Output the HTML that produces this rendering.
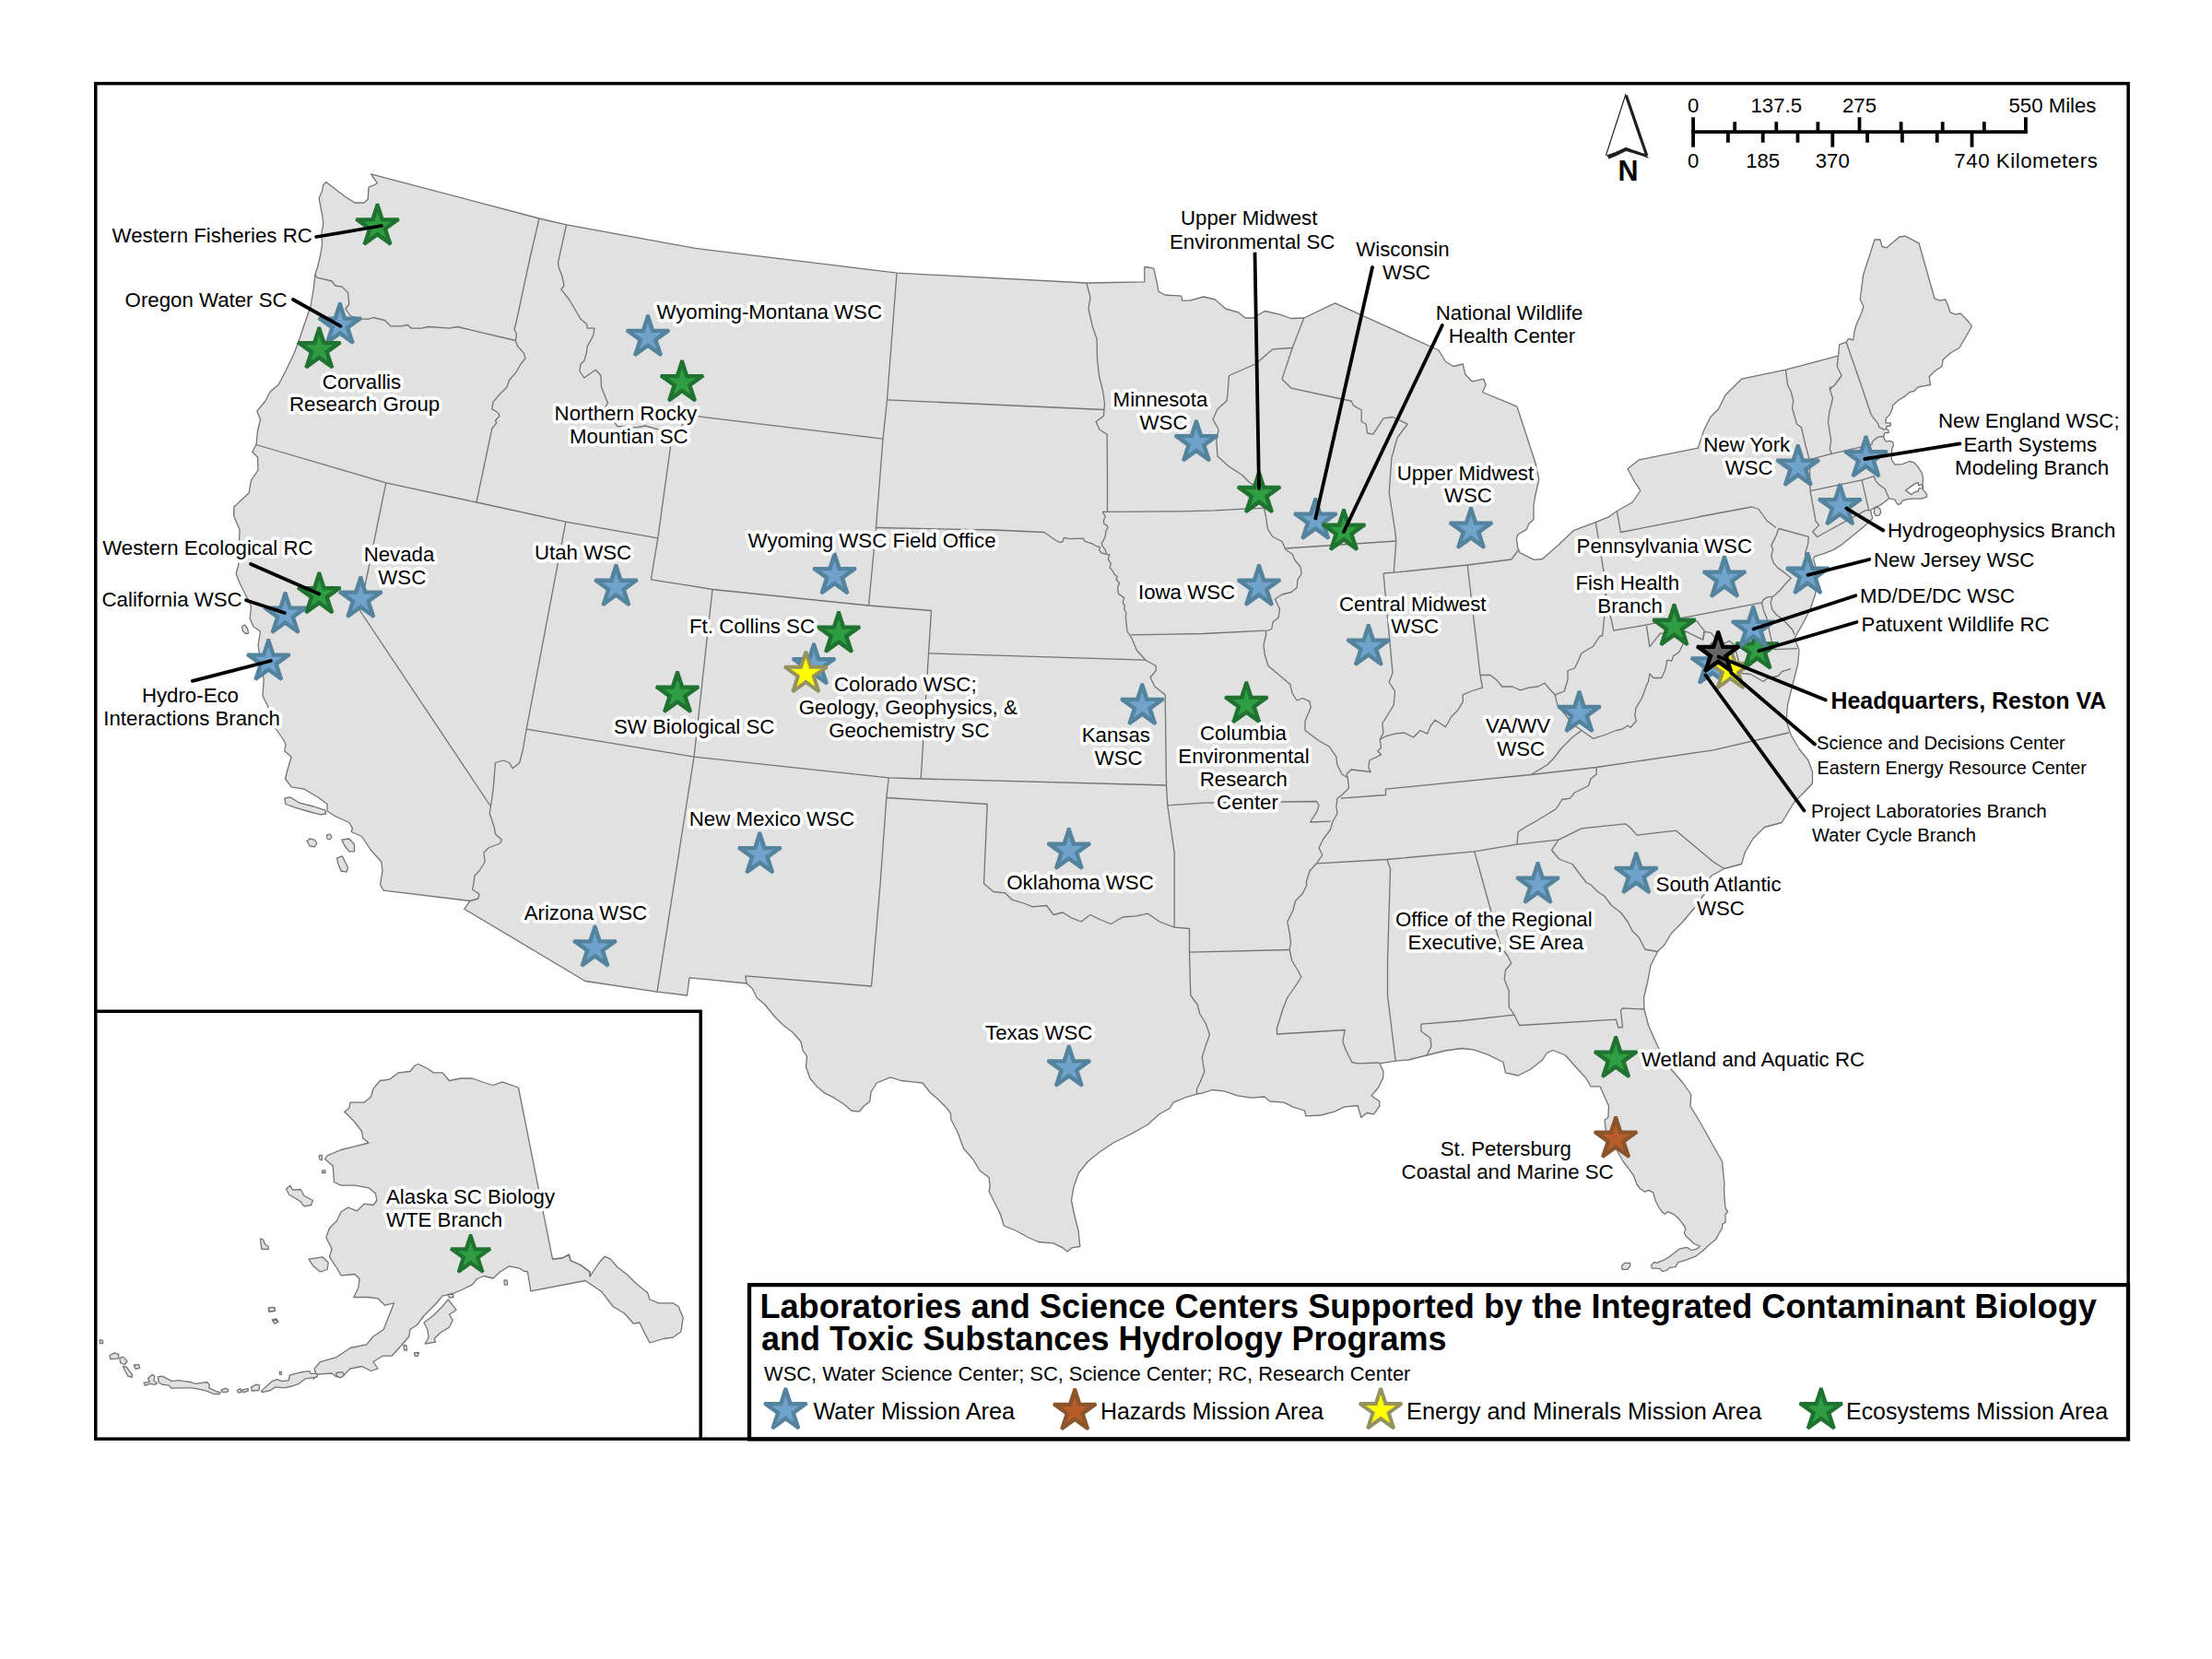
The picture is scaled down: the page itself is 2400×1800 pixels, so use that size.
<!DOCTYPE html><html><head><meta charset="utf-8"><title>Map</title><style>html,body{margin:0;padding:0;background:#fff}svg{display:block}text{font-family:"Liberation Sans",sans-serif;fill:#000}.h{paint-order:stroke;stroke:#fff;stroke-width:7.4px;stroke-linejoin:round}</style></head><body>
<svg width="2400" height="1800" viewBox="0 0 2400 1800">
<rect width="2400" height="1800" fill="#fff"/>
<g fill="#e1e1e1" stroke="#747474" stroke-width="1.3" stroke-linejoin="round">
<path fill-rule="evenodd" d="M402.5 188.8 L409.5 198.8 L405.0 201.2 L400.0 203.0 L399.2 216.2 L395.0 220.0 L385.0 220.0 L375.0 213.8 L353.8 197.5 L350.5 201.2 L349.5 207.5 L346.2 215.0 L347.5 222.5 L349.5 232.5 L350.8 242.5 L349.0 252.5 L349.5 265.0 L347.5 277.5 L344.5 290.0 L342.0 297.5 L340.0 315.0 L337.0 332.5 L330.0 352.5 L325.0 367.5 L319.5 382.5 L310.0 402.5 L302.0 417.5 L293.0 425.0 L288.0 435.0 L278.8 446.2 L282.5 455.0 L279.5 467.5 L278.0 482.5 L273.8 490.0 L279.5 496.2 L280.0 510.0 L272.5 521.2 L270.0 535.0 L253.8 550.0 L253.8 560.0 L260.0 574.8 L258.8 612.5 L256.2 622.5 L260.0 632.5 L266.2 645.0 L272.5 657.5 L271.2 671.2 L275.0 680.0 L282.5 685.0 L280.0 700.0 L282.5 715.0 L286.2 737.5 L285.0 755.0 L290.0 765.0 L298.8 790.0 L307.5 802.5 L310.0 807.5 L308.8 815.0 L316.2 821.2 L312.0 835.0 L309.5 845.0 L316.2 853.8 L330.0 856.2 L345.0 865.0 L355.0 872.5 L355.0 880.0 L362.5 885.0 L378.8 892.5 L382.5 898.8 L381.2 902.5 L392.5 907.5 L402.5 922.5 L413.8 935.0 L415.0 945.0 L412.5 960.0 L416.2 966.2 L510.0 977.5 L503.8 986.2 L635.0 1064.5 L713.0 1076.2 L745.5 1080.0 L748.0 1060.8 L810.0 1067.0 L816.2 1072.5 L821.2 1082.5 L830.0 1090.0 L840.0 1102.5 L850.0 1112.5 L860.0 1120.0 L868.8 1130.0 L871.2 1140.0 L875.5 1146.2 L874.5 1157.5 L878.8 1170.0 L886.2 1178.8 L895.0 1186.2 L905.0 1191.2 L915.0 1197.5 L923.8 1205.0 L932.0 1206.2 L937.5 1200.0 L943.8 1195.0 L945.0 1185.0 L951.2 1175.0 L966.2 1168.8 L977.5 1172.5 L990.0 1173.8 L1001.2 1175.0 L1008.8 1185.0 L1017.5 1192.5 L1026.2 1201.2 L1031.2 1207.5 L1032.0 1215.0 L1039.2 1228.8 L1045.5 1246.2 L1055.5 1257.5 L1063.0 1270.0 L1073.0 1277.5 L1074.2 1287.5 L1073.0 1292.5 L1079.2 1305.0 L1085.5 1317.5 L1089.2 1330.0 L1101.8 1335.0 L1115.5 1342.5 L1126.8 1347.5 L1143.0 1348.8 L1153.0 1353.8 L1158.0 1358.0 L1163.0 1353.8 L1171.8 1352.5 L1170.0 1335.0 L1165.5 1317.5 L1162.5 1302.5 L1165.0 1287.5 L1170.5 1272.5 L1180.5 1260.0 L1193.0 1250.0 L1208.0 1240.0 L1228.0 1230.0 L1245.5 1220.0 L1258.0 1208.8 L1269.2 1202.5 L1273.0 1196.2 L1288.0 1190.0 L1298.5 1187.0 L1304.2 1186.2 L1315.5 1182.5 L1328.0 1183.8 L1343.0 1188.8 L1358.0 1191.2 L1371.8 1190.0 L1378.0 1195.0 L1393.0 1196.2 L1403.0 1201.2 L1415.5 1205.0 L1416.8 1210.8 L1433.0 1210.0 L1448.0 1206.2 L1458.0 1201.2 L1473.0 1199.5 L1476.8 1212.5 L1483.0 1207.5 L1490.5 1208.8 L1496.8 1200.0 L1496.8 1195.0 L1488.0 1188.8 L1495.5 1180.0 L1500.5 1170.0 L1501.0 1162.5 L1496.8 1153.8 L1514.2 1151.2 L1528.0 1150.0 L1548.0 1145.0 L1568.0 1140.0 L1586.0 1137.5 L1598.5 1138.8 L1613.5 1143.8 L1631.0 1152.5 L1633.5 1163.8 L1647.2 1167.0 L1661.0 1160.0 L1673.5 1150.0 L1678.5 1142.5 L1684.8 1139.5 L1698.5 1145.0 L1708.5 1156.2 L1721.0 1170.0 L1726.0 1178.8 L1736.0 1178.8 L1741.0 1190.0 L1745.5 1200.0 L1744.8 1212.5 L1741.0 1215.0 L1742.2 1226.2 L1751.0 1242.5 L1761.0 1260.0 L1772.2 1275.0 L1776.0 1285.0 L1779.7 1290.0 L1784.8 1293.2 L1788.6 1291.3 L1793.7 1293.8 L1796.2 1302.7 L1800.0 1310.3 L1803.8 1315.3 L1806.3 1317.2 L1809.5 1314.7 L1816.5 1317.8 L1821.5 1322.3 L1827.8 1330.5 L1828.9 1334.3 L1827.2 1337.5 L1829.1 1341.3 L1834.2 1345.7 L1838.0 1349.5 L1844.3 1352.0 L1841.8 1354.6 L1835.4 1356.5 L1830.4 1353.3 L1822.8 1354.8 L1817.7 1358.4 L1811.4 1363.4 L1805.1 1367.2 L1800.0 1369.1 L1798.1 1370.4 L1794.9 1369.5 L1791.4 1372.9 L1792.4 1376.1 L1797.5 1376.1 L1801.3 1376.7 L1803.8 1379.6 L1808.9 1378.0 L1811.4 1375.4 L1817.7 1374.6 L1820.9 1369.7 L1829.1 1367.2 L1839.2 1363.4 L1846.8 1357.7 L1855.7 1349.5 L1862.0 1344.4 L1865.8 1336.8 L1868.4 1333.0 L1869.0 1328.0 L1872.2 1326.1 L1871.9 1317.8 L1874.7 1314.7 L1872.2 1311.5 L1871.1 1301.4 L1870.6 1290.0 L1871.0 1285.0 L1868.5 1260.0 L1858.5 1242.5 L1846.0 1220.0 L1834.0 1200.0 L1834.8 1187.5 L1826.0 1175.0 L1811.0 1157.5 L1798.5 1135.0 L1788.5 1112.5 L1784.0 1095.0 L1783.5 1082.5 L1787.2 1067.5 L1791.0 1047.5 L1798.5 1032.5 L1806.0 1025.0 L1813.5 1012.5 L1826.0 1000.0 L1838.5 985.0 L1851.0 967.5 L1847.0 965.0 L1857.0 950.0 L1870.8 942.5 L1889.5 937.5 L1893.2 925.0 L1902.0 910.0 L1914.5 897.5 L1933.2 892.5 L1940.8 880.0 L1947.0 870.0 L1957.0 860.0 L1966.5 850.0 L1966.5 837.5 L1962.0 825.0 L1952.0 812.5 L1943.2 797.5 L1938.2 782.5 L1939.5 765.0 L1943.2 750.0 L1947.0 735.0 L1950.8 720.0 L1952.0 705.0 L1947.0 692.5 L1957.0 675.0 L1964.5 660.0 L1969.5 645.0 L1972.0 625.0 L1969.7 614.3 L1967.7 606.4 L1968.7 603.9 L1979.6 600.4 L1989.6 596.4 L1997.5 591.4 L2012.4 579.5 L2024.4 569.6 L2029.6 564.7 L2031.9 562.0 L2030.5 558.3 L2029.6 553.4 L2035.0 550.2 L2039.6 548.4 L2044.1 545.2 L2049.5 540.7 L2055.8 542.1 L2057.2 544.8 L2059.5 547.5 L2062.2 546.6 L2064.0 543.4 L2069.4 541.6 L2076.6 541.2 L2084.8 541.2 L2090.2 539.3 L2090.7 536.6 L2086.6 531.2 L2086.1 524.9 L2086.6 518.6 L2085.2 513.1 L2081.2 506.8 L2076.6 501.8 L2071.7 500.5 L2064.0 503.6 L2055.8 504.1 L2054.9 502.3 L2052.2 498.7 L2052.7 486.9 L2054.5 483.3 L2053.6 479.7 L2050.4 478.3 L2045.9 478.8 L2044.5 476.1 L2043.6 473.3 L2045.0 469.7 L2049.1 469.7 L2049.1 467.0 L2046.8 465.2 L2046.8 462.5 L2051.3 462.0 L2051.3 458.9 L2045.9 458.9 L2046.3 453.9 L2050.4 449.8 L2053.1 443.5 L2053.6 439.9 L2059.5 434.5 L2066.7 429.9 L2072.1 425.4 L2076.6 424.5 L2081.2 420.0 L2087.0 418.8 L2094.5 417.5 L2093.2 408.8 L2099.5 402.5 L2107.0 397.5 L2108.2 390.0 L2117.0 382.5 L2125.8 377.5 L2133.2 365.0 L2139.5 353.8 L2134.5 347.5 L2127.0 340.0 L2122.0 341.2 L2115.8 338.8 L2114.0 332.5 L2110.8 325.0 L2104.5 326.2 L2099.0 323.8 L2082.0 263.8 L2067.0 256.2 L2060.8 257.0 L2047.0 268.8 L2042.0 267.5 L2040.0 260.0 L2034.0 260.0 L2021.5 298.8 L2019.5 315.0 L2018.2 325.0 L2022.0 332.5 L2019.5 340.0 L2014.0 352.5 L2012.0 360.0 L2010.8 368.8 L2005.8 367.5 L2003.2 371.2 L1995.8 373.8 L1994.5 386.2 L1937.5 401.2 L1889.5 411.2 L1872.0 428.8 L1864.5 443.8 L1855.8 452.5 L1848.5 467.5 L1842.2 486.2 L1778.5 498.8 L1766.0 508.8 L1773.5 522.5 L1779.8 532.5 L1771.0 545.0 L1754.4 554.5 L1744.9 561.2 L1731.3 566.7 L1707.8 575.3 L1690.6 591.5 L1673.5 606.5 L1664.4 607.4 L1649.0 599.7 L1646.8 594.2 L1645.4 584.3 L1647.2 579.8 L1656.3 574.4 L1659.0 568.0 L1664.0 563.5 L1664.0 549.0 L1665.3 540.0 L1669.8 520.0 L1666.0 502.5 L1646.0 441.2 L1608.5 425.5 L1612.2 417.5 L1609.8 411.2 L1597.2 413.8 L1589.8 406.2 L1587.2 395.0 L1577.2 397.5 L1568.5 392.5 L1561.0 380.0 L1448.5 328.8 L1414.8 345.0 L1401.0 345.5 L1388.5 341.2 L1372.2 337.5 L1359.8 345.0 L1351.0 345.0 L1343.5 338.8 L1329.8 335.0 L1318.5 325.0 L1306.0 322.0 L1290.5 326.2 L1282.5 326.2 L1281.8 321.2 L1264.2 320.0 L1256.8 316.2 L1256.0 310.0 L1251.8 291.2 L1241.8 289.5 L1241.8 305.8 L1178.8 307.0 L973.0 296.2 L753.0 269.2 L614.5 243.8 L585.0 237.0ZM2067.6 532.1 L2071.2 529.4 L2077.5 524.9 L2081.2 523.5 L2081.6 526.7 L2085.7 525.3 L2086.1 529.9 L2082.1 529.9 L2081.2 533.0 L2077.5 533.9 L2073.9 536.6Z"/>
<path d="M262.5 679.5 L265.5 678.0 L268.8 682.5 L269.5 687.0 L266.2 687.5 L263.0 683.8Z"/>
<path d="M308.8 866.2 L315.0 865.0 L325.0 871.2 L340.0 875.0 L352.5 878.8 L353.8 883.0 L347.5 883.8 L335.0 880.5 L320.0 876.2 L310.0 872.5Z"/>
<path d="M333.0 912.5 L336.2 910.0 L341.2 911.2 L343.8 915.0 L341.2 918.8 L336.2 918.0Z"/>
<path d="M354.5 906.2 L358.0 905.0 L360.0 908.0 L358.0 911.0 L355.0 910.0Z"/>
<path d="M370.8 911.2 L378.8 910.0 L384.5 916.2 L384.5 923.8 L378.8 923.8 L373.8 917.5Z"/>
<path d="M365.5 931.2 L371.2 928.8 L377.5 941.2 L376.2 946.2 L370.0 945.0 L367.0 937.5Z"/>
<path d="M2033.8 551.6 L2036.8 550.1 L2039.8 552.1 L2040.8 556.1 L2038.8 559.1 L2035.3 559.6 L2033.3 556.6Z"/>
<path d="M1759.5 1373.5 L1762.7 1370.4 L1768.7 1370.4 L1768.7 1373.5 L1765.8 1377.3 L1760.1 1377.3Z"/>
<path d="M453.8 1154.5 L465.0 1160.0 L470.0 1163.8 L480.0 1163.8 L487.5 1172.5 L500.0 1170.0 L512.5 1170.0 L525.0 1174.5 L535.0 1177.5 L545.0 1173.8 L562.5 1180.0 L599.5 1366.2 L610.0 1365.0 L617.5 1361.2 L618.8 1367.5 L630.0 1372.5 L640.0 1380.0 L640.0 1385.0 L650.0 1370.0 L656.2 1363.2 L662.5 1366.2 L670.0 1375.0 L680.0 1382.5 L690.0 1392.5 L702.5 1402.5 L705.0 1410.0 L715.0 1413.8 L730.0 1413.8 L736.2 1417.5 L741.2 1430.0 L738.8 1445.0 L730.0 1451.2 L720.0 1452.5 L705.0 1457.0 L700.0 1447.5 L693.8 1435.0 L687.5 1436.2 L677.5 1425.0 L665.0 1417.5 L652.5 1401.2 L635.0 1389.5 L575.8 1400.8 L572.5 1380.0 L567.5 1378.8 L563.8 1376.2 L552.5 1373.8 L542.5 1380.0 L535.0 1387.0 L525.0 1384.5 L517.5 1387.5 L512.5 1393.8 L500.0 1400.0 L490.0 1403.8 L480.0 1406.2 L472.5 1415.0 L460.0 1427.5 L452.5 1437.5 L445.0 1442.5 L443.8 1450.0 L437.5 1457.5 L425.0 1471.2 L415.0 1471.2 L405.0 1477.5 L410.0 1485.0 L402.5 1487.5 L392.5 1482.5 L380.0 1485.0 L372.5 1492.5 L365.0 1493.8 L360.0 1490.0 L345.0 1491.2 L340.0 1496.2 L343.0 1492.5 L341.2 1485.0 L347.5 1477.5 L365.0 1472.5 L380.0 1462.5 L397.5 1458.8 L405.0 1450.0 L416.2 1442.5 L427.5 1413.8 L417.5 1416.2 L410.0 1408.8 L400.0 1407.5 L383.8 1407.5 L388.8 1397.5 L390.0 1387.5 L385.0 1382.5 L370.0 1383.8 L365.0 1375.0 L357.5 1363.8 L360.0 1355.0 L353.8 1342.5 L357.5 1332.5 L365.0 1325.0 L370.0 1315.0 L377.5 1310.0 L387.5 1313.8 L395.0 1306.2 L405.0 1307.5 L408.8 1302.5 L407.5 1295.0 L400.0 1288.8 L385.0 1286.2 L370.0 1286.2 L362.5 1282.5 L361.2 1265.0 L352.5 1257.5 L355.0 1253.8 L370.0 1247.5 L385.0 1243.8 L400.0 1240.0 L393.8 1235.0 L392.5 1227.5 L385.0 1217.5 L373.8 1206.2 L378.8 1202.5 L380.0 1196.2 L395.0 1196.2 L402.5 1190.0 L405.0 1181.2 L412.5 1172.5 L422.5 1171.2 L432.5 1163.8 L445.0 1162.5 L450.0 1156.2Z"/>
<path d="M310.5 1290.0 L315.0 1286.2 L317.5 1291.2 L326.2 1290.5 L330.0 1297.5 L339.5 1302.5 L337.5 1307.5 L330.0 1308.8 L326.2 1303.8 L320.0 1300.0 L313.8 1296.2Z"/>
<path d="M335.0 1366.2 L350.0 1363.8 L356.2 1370.0 L355.0 1377.5 L347.5 1380.0 L340.0 1373.8Z"/>
<path d="M282.5 1343.8 L285.5 1345.0 L287.5 1350.0 L291.2 1352.5 L291.2 1355.5 L283.8 1355.0Z"/>
<path d="M291.2 1419.5 L298.0 1419.0 L298.0 1422.5 L291.8 1423.0Z"/>
<path d="M295.5 1432.0 L300.0 1431.0 L302.0 1434.0 L297.5 1435.5Z"/>
<path d="M460.0 1435.0 L470.0 1427.5 L480.0 1417.5 L486.2 1410.0 L491.2 1416.2 L495.0 1421.2 L487.5 1426.2 L491.2 1432.5 L487.5 1440.0 L477.5 1446.2 L471.2 1452.5 L472.5 1456.2 L461.2 1458.0 L465.0 1451.2 L463.8 1442.5Z"/>
<path d="M547.0 1388.8 L550.0 1388.8 L550.5 1393.8 L547.5 1394.2Z"/>
<path d="M438.0 1459.5 L441.0 1460.0 L441.5 1465.0 L438.5 1465.0Z"/>
<path d="M449.5 1468.0 L454.5 1467.5 L453.0 1471.5 L450.0 1471.0Z"/>
<path d="M486.2 1404.5 L491.2 1404.0 L492.0 1407.5 L487.5 1408.0Z"/>
<path d="M346.2 1253.8 L349.0 1253.0 L349.5 1258.8 L347.0 1258.0Z"/>
<path d="M349.5 1270.0 L353.0 1270.0 L353.0 1272.5 L349.5 1272.5Z"/>
<path d="M108.1 1453.9 L111.2 1454.2 L111.8 1457.5 L108.5 1457.5Z"/>
<path d="M119.0 1470.5 L124.4 1467.8 L128.9 1469.6 L128.0 1474.1 L119.9 1474.5Z"/>
<path d="M129.8 1473.2 L133.5 1472.3 L138.0 1476.9 L135.3 1480.5 L130.7 1478.7Z"/>
<path d="M133.5 1482.3 L137.1 1483.2 L143.4 1491.3 L143.0 1494.4 L138.9 1493.1 L135.3 1486.8Z"/>
<path d="M145.2 1481.0 L150.6 1480.7 L151.7 1484.1 L147.4 1485.4Z"/>
<path d="M156.1 1500.4 L162.4 1499.1 L160.6 1495.8 L165.1 1491.3 L167.8 1493.1 L166.9 1497.6 L170.5 1501.3 L167.8 1502.2 L162.4 1501.3 L157.5 1503.4Z"/>
<path d="M171.4 1494.0 L175.9 1493.1 L181.4 1495.8 L186.8 1498.6 L194.0 1497.6 L199.5 1498.6 L206.7 1499.5 L212.1 1501.3 L219.3 1500.4 L224.8 1499.5 L227.5 1503.1 L226.6 1505.8 L233.8 1509.4 L238.9 1510.7 L238.3 1512.5 L232.0 1512.5 L224.8 1509.4 L217.5 1507.6 L208.5 1505.8 L199.5 1505.8 L185.9 1506.1 L183.2 1503.1 L175.9 1502.2 L172.0 1499.5Z"/>
<path d="M240.1 1508.1 L244.7 1506.3 L247.9 1508.1 L246.5 1510.3 L241.0 1510.3Z"/>
<path d="M257.3 1508.5 L260.9 1506.7 L261.8 1510.3 L258.8 1511.2Z"/>
<path d="M262.7 1508.1 L269.1 1506.7 L269.1 1509.4 L263.7 1510.7Z"/>
<path d="M272.7 1504.9 L278.1 1502.2 L281.7 1503.1 L280.8 1508.5 L273.2 1509.0Z"/>
<path d="M283.5 1509.4 L288.1 1504.9 L295.3 1498.6 L300.7 1496.7 L306.1 1498.6 L313.4 1497.6 L314.3 1492.2 L320.6 1490.4 L327.8 1488.6 L336.0 1487.7 L336.9 1490.4 L344.1 1490.4 L344.1 1494.0 L338.7 1494.9 L331.5 1495.8 L324.2 1501.3 L317.0 1504.0 L308.0 1505.8 L298.9 1504.9 L293.5 1508.5 L284.4 1510.7Z"/>
<path d="M364.9 1489.5 L371.2 1488.6 L373.4 1492.2 L369.4 1494.9 L364.9 1492.6Z"/>
<path d="M303.4 1488.2 L305.4 1488.6 L305.4 1491.3 L303.6 1491.3Z"/>
<path d="M291.7 1419.0 L297.5 1418.4 L298.6 1422.1 L292.0 1423.1Z"/>
<path d="M295.7 1432.2 L300.7 1432.5 L301.1 1434.7 L298.0 1436.2Z"/>
</g>
<g fill="none" stroke="#747474" stroke-width="1.3" stroke-linejoin="round">
<path d="M585.0 237.0 L575.0 280.0 L560.0 350.0 L558.0 357.5 L560.5 362.5 L559.5 369.5"/>
<path d="M342.0 297.5 L343.8 301.2 L360.0 305.0 L363.8 310.0 L371.2 311.2 L377.5 317.5 L378.8 330.0 L375.0 335.0 L380.0 342.5 L390.0 346.2 L400.0 346.2 L405.0 344.5 L417.5 347.5 L423.8 353.8 L435.0 353.8 L442.5 352.5 L446.2 356.2 L457.5 356.2 L465.0 354.5 L487.5 356.2 L496.2 354.5 L559.5 369.5"/>
<path d="M559.5 369.5 L561.2 375.0 L568.8 383.8 L570.0 388.8 L565.0 395.0 L560.0 403.8 L552.5 412.5 L550.0 420.0 L542.5 427.5 L535.0 436.2 L533.8 443.8 L540.0 447.5 L542.0 451.2 L537.5 456.2 L538.8 458.8 L533.8 465.0 L517.0 545.0"/>
<path d="M614.5 243.8 L605.5 285.0 L606.2 290.0 L610.0 300.0 L612.0 310.0 L608.8 313.8 L617.5 325.0 L625.0 337.5 L630.0 346.2 L636.2 351.2 L637.5 356.2 L645.0 356.2 L643.8 363.8 L641.2 368.8 L637.5 375.0 L636.2 383.8 L633.8 391.2 L630.0 395.0 L628.8 402.5 L633.8 410.0 L646.2 401.2 L652.0 407.5 L652.5 420.0 L657.5 432.5 L659.5 437.5 L656.2 442.5 L657.5 447.5 L670.0 462.5 L690.0 463.8 L700.0 462.0 L715.0 466.2 L729.5 470.0"/>
<path d="M278.0 482.5 L418.8 523.8 L517.0 545.0 L613.8 566.2 L713.8 583.8"/>
<path d="M729.5 470.0 L713.8 583.8 L706.3 628.8"/>
<path d="M418.8 523.8 L390.5 662.5 L532.5 875.0"/>
<path d="M973.0 296.2 L962.5 433.8 L958.0 476.2 L950.5 572.5 L942.5 657.0"/>
<path d="M962.5 433.8 L1198.0 444.5"/>
<path d="M729.5 470.0 L753.0 451.2 L958.0 476.2"/>
<path d="M1178.8 307.0 L1183.0 322.5 L1181.0 335.0 L1185.5 355.0 L1190.0 367.5 L1190.5 390.0 L1192.5 407.5 L1196.8 425.0 L1198.5 437.5 L1198.0 444.5 L1197.5 451.2 L1189.2 457.5 L1193.0 466.2 L1201.2 471.2 L1201.5 520.0 L1201.5 555.3"/>
<path d="M1196.1 555.3 L1280.2 554.8 L1318.2 553.9 L1349.9 552.1 L1376.0 551.2"/>
<path d="M950.5 572.5 L1078.0 575.0 L1133.0 577.5 L1145.5 586.2 L1150.0 588.7 L1153.2 587.4 L1154.5 583.3 L1160.8 584.6 L1175.3 584.2 L1177.1 587.4 L1184.4 589.6 L1188.9 592.3 L1193.4 593.7 L1192.5 596.9 L1195.2 600.0 L1200.6 601.4"/>
<path d="M613.8 566.3 L571.2 791.2 L567.5 812.5 L563.8 827.5 L556.2 833.8 L552.5 827.5 L546.2 825.0 L537.5 827.5 L535.0 857.5 L532.5 875.0 L531.2 882.5 L536.2 897.5 L537.5 905.0 L544.5 911.2 L542.5 915.0 L530.0 920.0 L525.0 925.0 L526.2 935.0 L520.0 945.0 L515.0 950.0 L513.8 960.0 L512.5 965.0 L520.0 970.0 L518.8 975.0 L510.0 977.5"/>
<path d="M571.2 791.2 L753.0 821.2 L964.2 843.8 L999.2 845.0 L1265.5 852.0"/>
<path d="M706.3 628.8 L753.0 636.2 L773.0 639.5 L942.5 657.0 L1010.5 662.5"/>
<path d="M773.0 639.5 L753.0 821.2 L713.0 1076.2"/>
<path d="M1010.5 662.5 L1007.5 708.8 L999.2 845.0"/>
<path d="M1007.5 708.8 L1243.0 716.2"/>
<path d="M964.2 843.8 L961.8 865.5 L955.0 960.0 L945.5 1070.0 L808.8 1058.8 L810.0 1067.0"/>
<path d="M961.8 865.5 L1071.2 872.5 L1067.5 958.8 L1078.0 967.5 L1090.5 968.8 L1098.0 976.2 L1110.5 980.0 L1120.5 983.8 L1135.5 982.5 L1143.0 992.5 L1153.0 990.0 L1163.0 996.2 L1173.0 1000.0 L1183.0 992.5 L1193.0 997.5 L1205.5 1002.5 L1218.0 995.0 L1233.0 993.8 L1245.5 991.2 L1258.0 1000.0 L1274.2 1006.2 L1290.5 1007.5 L1290.5 1033.2 L1291.8 1080.0 L1299.2 1090.0 L1301.8 1100.0 L1308.0 1110.0 L1312.5 1122.5 L1308.0 1135.0 L1304.2 1147.5 L1306.8 1162.5 L1301.8 1175.0 L1298.5 1181.2 L1298.5 1187.0"/>
<path d="M1196.1 555.3 L1197.9 558.0 L1199.3 560.7 L1197.5 564.3 L1197.9 568.4 L1201.5 570.6 L1202.0 572.4 L1199.7 577.0 L1199.3 581.5 L1197.0 586.9 L1195.2 589.6 L1196.1 592.3 L1199.3 596.9 L1200.6 601.4 L1203.8 601.8 L1202.4 606.8 L1205.2 611.3 L1204.2 615.8 L1207.9 620.4 L1208.8 623.1 L1212.4 625.8 L1211.0 628.5 L1214.6 633.0 L1212.8 636.6 L1213.3 643.9 L1216.5 646.6 L1219.6 648.4 L1218.3 653.8 L1220.5 657.4 L1219.6 661.0 L1221.9 664.7 L1221.4 670.0 L1223.0 685.0 L1228.0 692.5 L1233.0 705.0 L1243.0 716.2 L1254.2 722.5 L1254.2 727.5 L1248.0 735.0 L1253.0 745.0 L1264.2 753.8 L1265.5 852.0 L1266.8 873.8 L1274.2 925.0 L1274.2 989.8 L1274.2 1006.2"/>
<path d="M1226.8 688.8 L1305.8 687.5 L1373.5 684.2"/>
<path d="M1266.8 873.8 L1305.8 871.2 L1428.5 869.5 L1431.0 873.8 L1428.5 881.2 L1421.5 892.0 L1443.5 891.2"/>
<path d="M1290.5 1033.2 L1399.2 1030.5"/>
<path d="M1414.8 345.0 L1402.2 377.5 L1391.0 411.2 L1401.0 421.2 L1453.5 432.5 L1466.0 435.0 L1468.5 440.0 L1477.2 445.0 L1477.2 457.5 L1482.2 460.0 L1483.5 470.0 L1489.8 471.2 L1501.0 453.8 L1511.0 452.5 L1527.2 460.0 L1516.0 475.0 L1509.8 497.5 L1507.2 535.0 L1513.5 574.8 L1514.8 587.0 L1512.2 621.2"/>
<path d="M1402.2 377.5 L1381.0 378.8 L1362.2 395.0 L1333.5 407.5 L1332.2 425.0 L1331.0 435.0 L1321.0 443.8 L1316.0 455.0 L1322.2 466.2 L1319.8 477.5 L1321.0 495.0 L1333.5 506.2 L1347.2 515.0 L1356.0 523.8 L1366.0 530.0 L1369.8 545.0 L1373.5 560.0 L1374.8 570.0 L1376.0 575.0 L1381.0 582.5 L1391.0 587.5 L1394.8 596.2 L1402.2 601.2 L1404.8 607.5 L1411.0 615.0 L1412.2 622.5 L1408.0 628.8 L1407.2 637.5 L1401.0 642.5 L1391.0 645.0 L1383.5 650.0 L1388.5 661.2 L1387.2 670.0 L1381.0 675.0 L1379.8 682.5 L1373.5 685.0 L1373.5 688.8 L1371.0 700.0 L1372.2 710.0 L1376.0 722.5 L1391.0 735.0 L1399.8 742.5 L1402.2 752.5 L1407.2 760.0 L1413.5 757.5 L1421.0 761.2 L1422.2 767.5 L1416.0 782.5 L1416.0 792.5 L1431.0 803.8 L1442.2 810.0 L1449.8 821.2 L1451.0 830.0 L1456.0 840.0 L1462.2 843.8 L1463.5 855.0 L1456.0 862.5 L1451.0 866.2 L1449.8 875.0 L1451.0 882.5 L1446.0 891.2 L1443.5 900.0 L1436.0 910.0 L1431.0 920.0 L1434.8 927.5 L1428.5 936.8 L1421.0 945.0 L1417.2 957.5 L1418.0 960.0 L1413.0 970.0 L1405.5 977.5 L1403.0 987.5 L1396.8 1000.0 L1399.2 1012.5 L1400.5 1022.5 L1399.2 1030.5 L1401.8 1042.5 L1408.0 1052.5 L1411.8 1060.0 L1405.5 1070.0 L1396.8 1082.5 L1391.8 1095.0 L1388.0 1107.5 L1385.5 1115.0 L1385.5 1122.0 L1459.2 1117.5 L1456.8 1130.0 L1460.5 1140.0 L1466.8 1152.5 L1473.0 1153.8 L1496.8 1153.0"/>
<path d="M1394.8 595.0 L1514.8 587.0"/>
<path d="M1501.0 622.0 L1512.2 621.2 L1592.2 613.0 L1640.0 607.0 L1647.2 597.0"/>
<path d="M1501.0 622.0 L1511.0 730.0 L1507.2 740.0 L1513.5 750.0 L1512.2 765.0 L1506.0 775.0 L1499.8 785.0 L1501.0 795.0 L1497.2 802.5 L1498.5 811.2 L1494.8 815.0 L1498.5 818.8 L1486.0 825.0 L1484.8 832.5 L1487.2 837.5 L1466.0 835.0 L1461.0 840.0 L1462.2 843.8"/>
<path d="M1592.2 613.0 L1606.0 732.5"/>
<path d="M1497.2 802.5 L1503.5 798.8 L1513.5 796.2 L1523.5 795.0 L1533.5 800.0 L1541.0 792.5 L1548.5 796.2 L1552.2 787.5 L1557.2 781.2 L1568.5 788.8 L1574.8 777.5 L1582.2 770.0 L1587.2 761.2 L1587.2 753.8 L1596.0 750.0 L1608.5 746.2 L1606.0 732.5 L1617.2 732.5 L1624.8 738.8 L1629.8 745.0 L1641.0 745.0 L1649.8 748.8 L1658.5 746.2 L1668.5 745.0 L1676.0 741.2 L1681.0 747.5 L1687.2 753.8 L1697.2 750.0 L1701.0 737.5 L1701.0 727.5 L1708.5 725.0 L1712.2 717.5 L1716.0 708.8 L1728.5 701.2 L1736.0 690.0 L1738.6 690.0 L1740.8 668.4 L1742.2 643.5 L1739.9 619.6 L1731.3 566.7"/>
<path d="M1687.2 753.8 L1689.8 765.0 L1696.0 772.5 L1706.0 785.0 L1716.0 792.5 L1706.0 800.0 L1693.5 812.5 L1686.0 822.5 L1678.5 830.0 L1661.0 840.5"/>
<path d="M1454.8 866.2 L1503.5 862.5 L1503.5 856.2 L1661.0 840.5 L1732.2 832.5 L1858.8 813.8 L1940.8 795.0"/>
<path d="M1732.2 832.5 L1732.2 840.0 L1726.0 845.0 L1723.5 852.5 L1708.5 860.0 L1703.5 866.2 L1694.8 867.5 L1688.5 877.5 L1678.5 883.8 L1666.0 891.2 L1654.8 897.5 L1647.2 902.5 L1646.0 916.2"/>
<path d="M1428.5 936.8 L1504.8 932.5 L1599.8 923.8 L1646.0 916.2 L1691.0 911.2 L1716.0 898.8 L1763.5 893.8 L1768.5 897.5 L1776.0 906.2 L1818.5 901.2 L1858.8 935.0 L1870.8 942.5"/>
<path d="M1691.0 911.2 L1683.5 922.5 L1692.2 932.5 L1706.0 937.5 L1721.0 957.5 L1726.0 960.0 L1733.5 967.5 L1741.0 972.5 L1748.5 982.5 L1758.5 990.0 L1766.0 1000.0 L1771.0 1010.0 L1778.5 1017.5 L1784.8 1030.0 L1798.5 1032.5"/>
<path d="M1599.8 923.8 L1609.8 960.0 L1628.5 1027.5 L1636.0 1037.5 L1639.8 1045.0 L1633.5 1052.5 L1632.2 1062.5 L1637.2 1075.0 L1637.2 1092.5 L1643.0 1101.2 L1648.5 1112.5 L1753.5 1106.2 L1756.0 1115.0 L1760.5 1114.5 L1758.5 1096.2 L1761.0 1093.8 L1784.0 1095.0"/>
<path d="M1504.8 932.5 L1508.5 942.5 L1508.0 960.0 L1505.5 1042.5 L1505.5 1080.0 L1514.2 1151.2"/>
<path d="M1643.0 1101.2 L1586.0 1107.5 L1541.8 1111.2 L1541.8 1118.8 L1551.8 1126.2 L1553.0 1135.0 L1548.0 1145.0"/>
<path d="M1742.2 643.5 L1747.1 667.5 L1750.8 684.2 L1780.0 679.2 L1911.6 653.9"/>
<path d="M1754.4 554.5 L1758.4 577.5 L1840.0 561.7 L1847.0 560.0 L1900.8 550.0 L1908.2 552.5 L1917.0 565.0 L1927.0 572.5"/>
<path d="M1937.5 401.2 L1939.5 417.5 L1943.2 425.0 L1945.8 435.0 L1944.5 442.5 L1949.5 460.0 L1954.5 463.8 L1958.2 480.0 L1963.2 498.7 L1964.1 532.6 L1969.9 564.7"/>
<path d="M1994.5 386.2 L1993.2 397.5 L1998.2 407.5 L1990.8 417.5 L1985.2 422.5 L1985.8 420.0 L1986.2 425.4 L1988.5 431.8 L1987.1 438.1 L1984.9 447.1 L1983.5 458.0 L1984.9 467.0 L1986.7 477.9 L1985.3 486.9 L1987.1 492.3"/>
<path d="M2003.2 371.2 L2020.1 420.0 L2030.1 449.8 L2037.8 459.8 L2038.7 463.4 L2044.1 466.1 L2046.8 465.2"/>
<path d="M1963.2 498.7 L1987.1 492.3 L2031.0 482.4 L2031.4 479.2 L2035.0 476.1 L2037.8 474.2 L2043.6 473.5"/>
<path d="M1964.1 532.6 L2020.1 520.8 L2033.2 516.7 L2035.0 521.3 L2038.7 525.8 L2045.0 530.3 L2049.5 540.7"/>
<path d="M2020.1 520.8 L2026.9 550.2 L2027.4 553.6"/>
<path d="M1930.0 573.5 L1962.3 582.4 L1961.6 590.6 L1958.5 600.8 L1960.0 611.0"/>
<path d="M1930.0 573.5 L1926.8 581.8 L1921.8 591.9 L1923.7 595.7 L1921.8 603.3 L1924.3 610.9 L1928.7 615.9 L1935.7 621.0 L1943.3 627.3 L1937.0 633.7 L1931.9 640.0 L1925.6 645.7 L1923.0 647.6 L1921.1 653.9 L1923.0 661.5 L1926.8 666.6 L1935.1 672.8 L1944.6 683.0 L1947.1 688.8"/>
<path d="M1911.2 653.4 L1913.7 662.9 L1916.7 669.9 L1919.2 681.8 L1922.2 695.7 L1925.2 704.7 L1950.0 703.7"/>
<path d="M1911.6 653.9 L1913.6 650.1 L1918.6 647.6 L1923.0 647.6"/>
<path d="M1828.7 684.8 L1825.7 699.7 L1821.7 707.7 L1815.7 711.6 L1813.7 717.1 L1808.8 716.1 L1806.8 726.6 L1802.8 735.5 L1793.8 735.5 L1789.9 731.0 L1788.4 739.5 L1786.9 742.5 L1781.4 757.4 L1774.9 768.4 L1773.9 776.3 L1775.4 782.3 L1769.0 789.3 L1766.0 787.3 L1760.0 791.2 L1753.5 792.5 L1741.0 797.5 L1728.5 801.3 L1716.0 792.5"/>
<path d="M1786.4 678.8 L1789.9 701.7 L1801.8 686.8 L1815.0 690.0 L1828.7 684.8 L1847.6 694.2 L1849.1 684.3 L1840.6 673.3"/>
<path d="M1847.6 694.2 L1849.5 685.3 L1856.0 686.3 L1860.5 691.7 L1871.4 698.2 L1875.9 695.2 L1880.9 698.7 L1885.0 712.0 L1889.4 730.5 L1899.3 731.5 L1913.2 739.5 L1918.2 735.5 L1929.2 733.5 L1933.6 728.6 L1943.1 725.6"/>
<path d="M1969.5 565.0 L1973.6 569.6 L1966.7 577.0 L1971.6 582.5 L2024.4 553.6 L2029.0 553.6"/>
<path d="M599.5 1366.2 L610.0 1365.0 L617.5 1361.2 L618.8 1367.5 L630.0 1372.5 L640.0 1380.0 L640.0 1385.0"/>
</g>
<g>
<polygon points="367.1,327.9 370.5,327.9 375.6,343.4 391.9,343.4 392.9,346.7 379.7,356.3 384.8,371.8 382.0,373.8 368.8,364.2 355.6,373.8 352.8,371.8 357.9,356.3 344.7,346.7 345.7,343.4 362.0,343.4" fill="#54839e"/><polygon points="368.8,336.9 372.3,347.8 383.8,347.8 374.5,354.6 378.1,365.5 368.8,358.7 359.5,365.5 363.1,354.6 353.8,347.8 365.3,347.8" fill="#70a3cc"/>
<polygon points="344.6,354.4 348.0,354.4 353.1,369.9 369.4,369.9 370.4,373.2 357.2,382.8 362.3,398.3 359.5,400.3 346.3,390.7 333.1,400.3 330.3,398.3 335.4,382.8 322.2,373.2 323.2,369.9 339.5,369.9" fill="#1f7230"/><polygon points="346.3,363.4 349.8,374.3 361.3,374.3 352.0,381.1 355.6,392.0 346.3,385.2 337.0,392.0 340.6,381.1 331.3,374.3 342.8,374.3" fill="#2f9e43"/>
<polygon points="407.8,220.7 411.2,220.7 416.3,236.2 432.6,236.2 433.6,239.5 420.4,249.1 425.5,264.6 422.7,266.6 409.5,257.0 396.3,266.6 393.5,264.6 398.6,249.1 385.4,239.5 386.4,236.2 402.7,236.2" fill="#1f7230"/><polygon points="409.5,229.7 413.0,240.6 424.5,240.6 415.2,247.4 418.8,258.3 409.5,251.5 400.2,258.3 403.8,247.4 394.5,240.6 406.0,240.6" fill="#2f9e43"/>
<polygon points="701.3,341.2 704.7,341.2 709.8,356.7 726.1,356.7 727.1,360.0 713.9,369.6 719.0,385.1 716.2,387.1 703.0,377.5 689.8,387.1 687.0,385.1 692.1,369.6 678.9,360.0 679.9,356.7 696.2,356.7" fill="#54839e"/><polygon points="703.0,350.2 706.5,361.1 718.0,361.1 708.7,367.9 712.3,378.8 703.0,372.0 693.7,378.8 697.3,367.9 688.0,361.1 699.5,361.1" fill="#70a3cc"/>
<polygon points="738.3,390.4 741.7,390.4 746.8,405.9 763.1,405.9 764.1,409.2 750.9,418.8 756.0,434.3 753.2,436.3 740.0,426.7 726.8,436.3 724.0,434.3 729.1,418.8 715.9,409.2 716.9,405.9 733.2,405.9" fill="#1f7230"/><polygon points="740.0,399.4 743.5,410.3 755.0,410.3 745.7,417.1 749.3,428.0 740.0,421.2 730.7,428.0 734.3,417.1 725.0,410.3 736.5,410.3" fill="#2f9e43"/>
<polygon points="1296.3,455.4 1299.7,455.4 1304.8,470.9 1321.1,470.9 1322.1,474.2 1308.9,483.8 1314.0,499.3 1311.2,501.3 1298.0,491.7 1284.8,501.3 1282.0,499.3 1287.1,483.8 1273.9,474.2 1274.9,470.9 1291.2,470.9" fill="#54839e"/><polygon points="1298.0,464.4 1301.5,475.3 1313.0,475.3 1303.7,482.1 1307.3,493.0 1298.0,486.2 1288.7,493.0 1292.3,482.1 1283.0,475.3 1294.5,475.3" fill="#70a3cc"/>
<polygon points="1364.3,511.2 1367.7,511.2 1372.8,526.7 1389.1,526.7 1390.1,530.0 1376.9,539.6 1382.0,555.1 1379.2,557.1 1366.0,547.5 1352.8,557.1 1350.0,555.1 1355.1,539.6 1341.9,530.0 1342.9,526.7 1359.2,526.7" fill="#1f7230"/><polygon points="1366.0,520.2 1369.5,531.1 1381.0,531.1 1371.7,537.9 1375.3,548.8 1366.0,542.0 1356.7,548.8 1360.3,537.9 1351.0,531.1 1362.5,531.1" fill="#2f9e43"/>
<polygon points="1425.6,539.9 1429.0,539.9 1434.1,555.4 1450.4,555.4 1451.4,558.7 1438.2,568.3 1443.3,583.8 1440.5,585.8 1427.3,576.2 1414.1,585.8 1411.3,583.8 1416.4,568.3 1403.2,558.7 1404.2,555.4 1420.5,555.4" fill="#54839e"/><polygon points="1427.3,548.9 1430.8,559.8 1442.3,559.8 1433.0,566.6 1436.6,577.5 1427.3,570.7 1418.0,577.5 1421.6,566.6 1412.3,559.8 1423.8,559.8" fill="#70a3cc"/>
<polygon points="1456.3,551.9 1459.7,551.9 1464.8,567.4 1481.1,567.4 1482.1,570.7 1468.9,580.3 1474.0,595.8 1471.2,597.8 1458.0,588.2 1444.8,597.8 1442.0,595.8 1447.1,580.3 1433.9,570.7 1434.9,567.4 1451.2,567.4" fill="#1f7230"/><polygon points="1458.0,560.9 1461.5,571.8 1473.0,571.8 1463.7,578.6 1467.3,589.5 1458.0,582.7 1448.7,589.5 1452.3,578.6 1443.0,571.8 1454.5,571.8" fill="#2f9e43"/>
<polygon points="1594.3,549.9 1597.7,549.9 1602.8,565.4 1619.1,565.4 1620.1,568.7 1606.9,578.3 1612.0,593.8 1609.2,595.8 1596.0,586.2 1582.8,595.8 1580.0,593.8 1585.1,578.3 1571.9,568.7 1572.9,565.4 1589.2,565.4" fill="#54839e"/><polygon points="1596.0,558.9 1599.5,569.8 1611.0,569.8 1601.7,576.6 1605.3,587.5 1596.0,580.7 1586.7,587.5 1590.3,576.6 1581.0,569.8 1592.5,569.8" fill="#70a3cc"/>
<polygon points="1949.1,481.9 1952.5,481.9 1957.6,497.4 1973.9,497.4 1974.9,500.7 1961.7,510.3 1966.8,525.8 1964.0,527.8 1950.8,518.2 1937.6,527.8 1934.8,525.8 1939.9,510.3 1926.7,500.7 1927.7,497.4 1944.0,497.4" fill="#54839e"/><polygon points="1950.8,490.9 1954.3,501.8 1965.8,501.8 1956.5,508.6 1960.1,519.5 1950.8,512.7 1941.5,519.5 1945.1,508.6 1935.8,501.8 1947.3,501.8" fill="#70a3cc"/>
<polygon points="2022.8,472.4 2026.2,472.4 2031.3,487.9 2047.6,487.9 2048.6,491.2 2035.4,500.8 2040.5,516.3 2037.7,518.3 2024.5,508.7 2011.3,518.3 2008.5,516.3 2013.6,500.8 2000.4,491.2 2001.4,487.9 2017.7,487.9" fill="#54839e"/><polygon points="2024.5,481.4 2028.0,492.3 2039.5,492.3 2030.2,499.1 2033.8,510.0 2024.5,503.2 2015.2,510.0 2018.8,499.1 2009.5,492.3 2021.0,492.3" fill="#70a3cc"/>
<polygon points="1994.6,524.4 1998.0,524.4 2003.1,539.9 2019.4,539.9 2020.4,543.2 2007.2,552.8 2012.3,568.3 2009.5,570.3 1996.3,560.7 1983.1,570.3 1980.3,568.3 1985.4,552.8 1972.2,543.2 1973.2,539.9 1989.5,539.9" fill="#54839e"/><polygon points="1996.3,533.4 1999.8,544.3 2011.3,544.3 2002.0,551.1 2005.6,562.0 1996.3,555.2 1987.0,562.0 1990.6,551.1 1981.3,544.3 1992.8,544.3" fill="#70a3cc"/>
<polygon points="307.8,641.9 311.2,641.9 316.3,657.4 332.6,657.4 333.6,660.7 320.4,670.3 325.5,685.8 322.7,687.8 309.5,678.2 296.3,687.8 293.5,685.8 298.6,670.3 285.4,660.7 286.4,657.4 302.7,657.4" fill="#54839e"/><polygon points="309.5,650.9 313.0,661.8 324.5,661.8 315.2,668.6 318.8,679.5 309.5,672.7 300.2,679.5 303.8,668.6 294.5,661.8 306.0,661.8" fill="#70a3cc"/>
<polygon points="389.6,624.9 393.0,624.9 398.1,640.4 414.4,640.4 415.4,643.7 402.2,653.3 407.3,668.8 404.5,670.8 391.3,661.2 378.1,670.8 375.3,668.8 380.4,653.3 367.2,643.7 368.2,640.4 384.5,640.4" fill="#54839e"/><polygon points="391.3,633.9 394.8,644.8 406.3,644.8 397.0,651.6 400.6,662.5 391.3,655.7 382.0,662.5 385.6,651.6 376.3,644.8 387.8,644.8" fill="#70a3cc"/>
<polygon points="344.6,620.4 348.0,620.4 353.1,635.9 369.4,635.9 370.4,639.2 357.2,648.8 362.3,664.3 359.5,666.3 346.3,656.7 333.1,666.3 330.3,664.3 335.4,648.8 322.2,639.2 323.2,635.9 339.5,635.9" fill="#1f7230"/><polygon points="346.3,629.4 349.8,640.3 361.3,640.3 352.0,647.1 355.6,658.0 346.3,651.2 337.0,658.0 340.6,647.1 331.3,640.3 342.8,640.3" fill="#2f9e43"/>
<polygon points="289.6,692.9 293.0,692.9 298.1,708.4 314.4,708.4 315.4,711.7 302.2,721.3 307.3,736.8 304.5,738.8 291.3,729.2 278.1,738.8 275.3,736.8 280.4,721.3 267.2,711.7 268.2,708.4 284.5,708.4" fill="#54839e"/><polygon points="291.3,701.9 294.8,712.8 306.3,712.8 297.0,719.6 300.6,730.5 291.3,723.7 282.0,730.5 285.6,719.6 276.3,712.8 287.8,712.8" fill="#70a3cc"/>
<polygon points="666.7,612.0 670.1,612.0 675.2,627.5 691.5,627.5 692.5,630.8 679.3,640.4 684.4,655.9 681.6,657.9 668.4,648.3 655.2,657.9 652.4,655.9 657.5,640.4 644.3,630.8 645.3,627.5 661.6,627.5" fill="#54839e"/><polygon points="668.4,621.0 671.9,631.9 683.4,631.9 674.1,638.7 677.7,649.6 668.4,642.8 659.1,649.6 662.7,638.7 653.4,631.9 664.9,631.9" fill="#70a3cc"/>
<polygon points="733.3,727.9 736.7,727.9 741.8,743.4 758.1,743.4 759.1,746.7 745.9,756.3 751.0,771.8 748.2,773.8 735.0,764.2 721.8,773.8 719.0,771.8 724.1,756.3 710.9,746.7 711.9,743.4 728.2,743.4" fill="#1f7230"/><polygon points="735.0,736.9 738.5,747.8 750.0,747.8 740.7,754.6 744.3,765.5 735.0,758.7 725.7,765.5 729.3,754.6 720.0,747.8 731.5,747.8" fill="#2f9e43"/>
<polygon points="903.8,599.4 907.2,599.4 912.3,614.9 928.6,614.9 929.6,618.2 916.4,627.8 921.5,643.3 918.7,645.3 905.5,635.7 892.3,645.3 889.5,643.3 894.6,627.8 881.4,618.2 882.4,614.9 898.7,614.9" fill="#54839e"/><polygon points="905.5,608.4 909.0,619.3 920.5,619.3 911.2,626.1 914.8,637.0 905.5,630.2 896.2,637.0 899.8,626.1 890.5,619.3 902.0,619.3" fill="#70a3cc"/>
<polygon points="881.3,697.4 884.7,697.4 889.8,712.9 906.1,712.9 907.1,716.2 893.9,725.8 899.0,741.3 896.2,743.3 883.0,733.7 869.8,743.3 867.0,741.3 872.1,725.8 858.9,716.2 859.9,712.9 876.2,712.9" fill="#54839e"/><polygon points="883.0,706.4 886.5,717.3 898.0,717.3 888.7,724.1 892.3,735.0 883.0,728.2 873.7,735.0 877.3,724.1 868.0,717.3 879.5,717.3" fill="#70a3cc"/>
<polygon points="908.3,662.9 911.7,662.9 916.8,678.4 933.1,678.4 934.1,681.7 920.9,691.3 926.0,706.8 923.2,708.8 910.0,699.2 896.8,708.8 894.0,706.8 899.1,691.3 885.9,681.7 886.9,678.4 903.2,678.4" fill="#1f7230"/><polygon points="910.0,671.9 913.5,682.8 925.0,682.8 915.7,689.6 919.3,700.5 910.0,693.7 900.7,700.5 904.3,689.6 895.0,682.8 906.5,682.8" fill="#2f9e43"/>
<polygon points="872.6,706.2 876.0,706.2 881.1,721.7 897.4,721.7 898.4,725.0 885.2,734.6 890.3,750.1 887.5,752.1 874.3,742.5 861.1,752.1 858.3,750.1 863.4,734.6 850.2,725.0 851.2,721.7 867.5,721.7" fill="#94935f"/><polygon points="874.3,713.8 878.2,725.7 890.7,725.7 880.5,733.0 884.4,744.9 874.3,737.6 864.2,744.9 868.1,733.0 857.9,725.7 870.4,725.7" fill="#ffff00"/>
<polygon points="1237.6,741.2 1241.0,741.2 1246.1,756.7 1262.4,756.7 1263.4,760.0 1250.2,769.6 1255.3,785.1 1252.5,787.1 1239.3,777.5 1226.1,787.1 1223.3,785.1 1228.4,769.6 1215.2,760.0 1216.2,756.7 1232.5,756.7" fill="#54839e"/><polygon points="1239.3,750.2 1242.8,761.1 1254.3,761.1 1245.0,767.9 1248.6,778.8 1239.3,772.0 1230.0,778.8 1233.6,767.9 1224.3,761.1 1235.8,761.1" fill="#70a3cc"/>
<polygon points="822.6,902.4 826.0,902.4 831.1,917.9 847.4,917.9 848.4,921.2 835.2,930.8 840.3,946.3 837.5,948.3 824.3,938.7 811.1,948.3 808.3,946.3 813.4,930.8 800.2,921.2 801.2,917.9 817.5,917.9" fill="#54839e"/><polygon points="824.3,911.4 827.8,922.3 839.3,922.3 830.0,929.1 833.6,940.0 824.3,933.2 815.0,940.0 818.6,929.1 809.3,922.3 820.8,922.3" fill="#70a3cc"/>
<polygon points="1158.1,897.9 1161.5,897.9 1166.6,913.4 1182.9,913.4 1183.9,916.7 1170.7,926.3 1175.8,941.8 1173.0,943.8 1159.8,934.2 1146.6,943.8 1143.8,941.8 1148.9,926.3 1135.7,916.7 1136.7,913.4 1153.0,913.4" fill="#54839e"/><polygon points="1159.8,906.9 1163.3,917.8 1174.8,917.8 1165.5,924.6 1169.1,935.5 1159.8,928.7 1150.5,935.5 1154.1,924.6 1144.8,917.8 1156.3,917.8" fill="#70a3cc"/>
<polygon points="1364.3,611.9 1367.7,611.9 1372.8,627.4 1389.1,627.4 1390.1,630.7 1376.9,640.3 1382.0,655.8 1379.2,657.8 1366.0,648.2 1352.8,657.8 1350.0,655.8 1355.1,640.3 1341.9,630.7 1342.9,627.4 1359.2,627.4" fill="#54839e"/><polygon points="1366.0,620.9 1369.5,631.8 1381.0,631.8 1371.7,638.6 1375.3,649.5 1366.0,642.7 1356.7,649.5 1360.3,638.6 1351.0,631.8 1362.5,631.8" fill="#70a3cc"/>
<polygon points="1483.1,676.9 1486.5,676.9 1491.6,692.4 1507.9,692.4 1508.9,695.7 1495.7,705.3 1500.8,720.8 1498.0,722.8 1484.8,713.2 1471.6,722.8 1468.8,720.8 1473.9,705.3 1460.7,695.7 1461.7,692.4 1478.0,692.4" fill="#54839e"/><polygon points="1484.8,685.9 1488.3,696.8 1499.8,696.8 1490.5,703.6 1494.1,714.5 1484.8,707.7 1475.5,714.5 1479.1,703.6 1469.8,696.8 1481.3,696.8" fill="#70a3cc"/>
<polygon points="1350.6,739.2 1354.0,739.2 1359.1,754.7 1375.4,754.7 1376.4,758.0 1363.2,767.6 1368.3,783.1 1365.5,785.1 1352.3,775.5 1339.1,785.1 1336.3,783.1 1341.4,767.6 1328.2,758.0 1329.2,754.7 1345.5,754.7" fill="#1f7230"/><polygon points="1352.3,748.2 1355.8,759.1 1367.3,759.1 1358.0,765.9 1361.6,776.8 1352.3,770.0 1343.0,776.8 1346.6,765.9 1337.3,759.1 1348.8,759.1" fill="#2f9e43"/>
<polygon points="1711.8,749.2 1715.2,749.2 1720.3,764.7 1736.6,764.7 1737.6,768.0 1724.4,777.6 1729.5,793.1 1726.7,795.1 1713.5,785.5 1700.3,795.1 1697.5,793.1 1702.6,777.6 1689.4,768.0 1690.4,764.7 1706.7,764.7" fill="#54839e"/><polygon points="1713.5,758.2 1717.0,769.1 1728.5,769.1 1719.2,775.9 1722.8,786.8 1713.5,780.0 1704.2,786.8 1707.8,775.9 1698.5,769.1 1710.0,769.1" fill="#70a3cc"/>
<polygon points="1814.8,655.1 1818.2,655.1 1823.3,670.6 1839.6,670.6 1840.6,673.9 1827.4,683.5 1832.5,699.0 1829.7,701.0 1816.5,691.4 1803.3,701.0 1800.5,699.0 1805.6,683.5 1792.4,673.9 1793.4,670.6 1809.7,670.6" fill="#1f7230"/><polygon points="1816.5,664.1 1820.0,675.0 1831.5,675.0 1822.2,681.8 1825.8,692.7 1816.5,685.9 1807.2,692.7 1810.8,681.8 1801.5,675.0 1813.0,675.0" fill="#2f9e43"/>
<polygon points="1666.8,934.9 1670.2,934.9 1675.3,950.4 1691.6,950.4 1692.6,953.7 1679.4,963.3 1684.5,978.8 1681.7,980.8 1668.5,971.2 1655.3,980.8 1652.5,978.8 1657.6,963.3 1644.4,953.7 1645.4,950.4 1661.7,950.4" fill="#54839e"/><polygon points="1668.5,943.9 1672.0,954.8 1683.5,954.8 1674.2,961.6 1677.8,972.5 1668.5,965.7 1659.2,972.5 1662.8,961.6 1653.5,954.8 1665.0,954.8" fill="#70a3cc"/>
<polygon points="1773.6,924.2 1777.0,924.2 1782.1,939.7 1798.4,939.7 1799.4,943.0 1786.2,952.6 1791.3,968.1 1788.5,970.1 1775.3,960.5 1762.1,970.1 1759.3,968.1 1764.4,952.6 1751.2,943.0 1752.2,939.7 1768.5,939.7" fill="#54839e"/><polygon points="1775.3,933.2 1778.8,944.1 1790.3,944.1 1781.0,950.9 1784.6,961.8 1775.3,955.0 1766.0,961.8 1769.6,950.9 1760.3,944.1 1771.8,944.1" fill="#70a3cc"/>
<polygon points="1869.3,602.9 1872.7,602.9 1877.8,618.4 1894.1,618.4 1895.1,621.7 1881.9,631.3 1887.0,646.8 1884.2,648.8 1871.0,639.2 1857.8,648.8 1855.0,646.8 1860.1,631.3 1846.9,621.7 1847.9,618.4 1864.2,618.4" fill="#54839e"/><polygon points="1871.0,611.9 1874.5,622.8 1886.0,622.8 1876.7,629.6 1880.3,640.5 1871.0,633.7 1861.7,640.5 1865.3,629.6 1856.0,622.8 1867.5,622.8" fill="#70a3cc"/>
<polygon points="1959.6,599.1 1963.0,599.1 1968.1,614.6 1984.4,614.6 1985.4,617.9 1972.2,627.5 1977.3,643.0 1974.5,645.0 1961.3,635.4 1948.1,645.0 1945.3,643.0 1950.4,627.5 1937.2,617.9 1938.2,614.6 1954.5,614.6" fill="#54839e"/><polygon points="1961.3,608.1 1964.8,619.0 1976.3,619.0 1967.0,625.8 1970.6,636.7 1961.3,629.9 1952.0,636.7 1955.6,625.8 1946.3,619.0 1957.8,619.0" fill="#70a3cc"/>
<polygon points="1856.3,696.7 1859.7,696.7 1864.8,712.2 1881.1,712.2 1882.1,715.5 1868.9,725.1 1874.0,740.6 1871.2,742.6 1858.0,733.0 1844.8,742.6 1842.0,740.6 1847.1,725.1 1833.9,715.5 1834.9,712.2 1851.2,712.2" fill="#54839e"/><polygon points="1858.0,705.7 1861.5,716.6 1873.0,716.6 1863.7,723.4 1867.3,734.3 1858.0,727.5 1848.7,734.3 1852.3,723.4 1843.0,716.6 1854.5,716.6" fill="#70a3cc"/>
<polygon points="1875.8,702.2 1879.2,702.2 1884.3,717.7 1900.6,717.7 1901.6,721.0 1888.4,730.6 1893.5,746.1 1890.7,748.1 1877.5,738.5 1864.3,748.1 1861.5,746.1 1866.6,730.6 1853.4,721.0 1854.4,717.7 1870.7,717.7" fill="#94935f"/><polygon points="1877.5,709.8 1881.4,721.7 1893.9,721.7 1883.7,729.0 1887.6,740.9 1877.5,733.6 1867.4,740.9 1871.3,729.0 1861.1,721.7 1873.6,721.7" fill="#ffff00"/>
<polygon points="1904.9,680.7 1908.3,680.7 1913.4,696.2 1929.7,696.2 1930.7,699.5 1917.5,709.1 1922.6,724.6 1919.8,726.6 1906.6,717.0 1893.4,726.6 1890.6,724.6 1895.7,709.1 1882.5,699.5 1883.5,696.2 1899.8,696.2" fill="#1f7230"/><polygon points="1906.6,689.7 1910.1,700.6 1921.6,700.6 1912.3,707.4 1915.9,718.3 1906.6,711.5 1897.3,718.3 1900.9,707.4 1891.6,700.6 1903.1,700.6" fill="#2f9e43"/>
<polygon points="1900.5,657.0 1903.9,657.0 1909.0,672.5 1925.3,672.5 1926.3,675.8 1913.1,685.4 1918.2,700.9 1915.4,702.9 1902.2,693.3 1889.0,702.9 1886.2,700.9 1891.3,685.4 1878.1,675.8 1879.1,672.5 1895.4,672.5" fill="#54839e"/><polygon points="1902.2,666.0 1905.7,676.9 1917.2,676.9 1907.9,683.7 1911.5,694.6 1902.2,687.8 1892.9,694.6 1896.5,683.7 1887.2,676.9 1898.7,676.9" fill="#70a3cc"/>
<polygon points="643.8,1003.7 647.2,1003.7 652.3,1019.2 668.6,1019.2 669.6,1022.5 656.4,1032.1 661.5,1047.6 658.7,1049.6 645.5,1040.0 632.3,1049.6 629.5,1047.6 634.6,1032.1 621.4,1022.5 622.4,1019.2 638.7,1019.2" fill="#54839e"/><polygon points="645.5,1012.7 649.0,1023.6 660.5,1023.6 651.2,1030.4 654.8,1041.3 645.5,1034.5 636.2,1041.3 639.8,1030.4 630.5,1023.6 642.0,1023.6" fill="#70a3cc"/>
<polygon points="1158.1,1133.7 1161.5,1133.7 1166.6,1149.2 1182.9,1149.2 1183.9,1152.5 1170.7,1162.1 1175.8,1177.6 1173.0,1179.6 1159.8,1170.0 1146.6,1179.6 1143.8,1177.6 1148.9,1162.1 1135.7,1152.5 1136.7,1149.2 1153.0,1149.2" fill="#54839e"/><polygon points="1159.8,1142.7 1163.3,1153.6 1174.8,1153.6 1165.5,1160.4 1169.1,1171.3 1159.8,1164.5 1150.5,1171.3 1154.1,1160.4 1144.8,1153.6 1156.3,1153.6" fill="#70a3cc"/>
<polygon points="1751.4,1123.9 1754.8,1123.9 1759.9,1139.4 1776.2,1139.4 1777.2,1142.7 1764.0,1152.3 1769.1,1167.8 1766.3,1169.8 1753.1,1160.2 1739.9,1169.8 1737.1,1167.8 1742.2,1152.3 1729.0,1142.7 1730.0,1139.4 1746.3,1139.4" fill="#1f7230"/><polygon points="1753.1,1132.9 1756.6,1143.8 1768.1,1143.8 1758.8,1150.6 1762.4,1161.5 1753.1,1154.7 1743.8,1161.5 1747.4,1150.6 1738.1,1143.8 1749.6,1143.8" fill="#2f9e43"/>
<polygon points="1751.4,1210.9 1754.8,1210.9 1759.9,1226.4 1776.2,1226.4 1777.2,1229.7 1764.0,1239.3 1769.1,1254.8 1766.3,1256.8 1753.1,1247.2 1739.9,1256.8 1737.1,1254.8 1742.2,1239.3 1729.0,1229.7 1730.0,1226.4 1746.3,1226.4" fill="#8a552b"/><polygon points="1753.1,1219.9 1756.6,1230.8 1768.1,1230.8 1758.8,1237.6 1762.4,1248.5 1753.1,1241.7 1743.8,1248.5 1747.4,1237.6 1738.1,1230.8 1749.6,1230.8" fill="#b85c2a"/>
<polygon points="509.0,1338.9 512.2,1338.9 516.9,1353.3 532.0,1353.3 533.0,1356.4 520.8,1365.3 525.5,1379.7 522.9,1381.6 510.6,1372.7 498.3,1381.6 495.7,1379.7 500.4,1365.3 488.2,1356.4 489.2,1353.3 504.3,1353.3" fill="#1f7230"/><polygon points="510.6,1347.3 513.9,1357.5 524.6,1357.5 515.9,1363.7 519.2,1373.9 510.6,1367.6 502.0,1373.9 505.3,1363.7 496.6,1357.5 507.3,1357.5" fill="#2f9e43"/>
<polygon points="850.7,1505.4 854.1,1505.4 859.2,1520.9 875.5,1520.9 876.5,1524.2 863.3,1533.8 868.4,1549.3 865.6,1551.3 852.4,1541.7 839.2,1551.3 836.4,1549.3 841.5,1533.8 828.3,1524.2 829.3,1520.9 845.6,1520.9" fill="#54839e"/><polygon points="852.4,1514.4 855.9,1525.3 867.4,1525.3 858.1,1532.1 861.7,1543.0 852.4,1536.2 843.1,1543.0 846.7,1532.1 837.4,1525.3 848.9,1525.3" fill="#70a3cc"/>
<polygon points="1164.5,1506.2 1167.9,1506.2 1173.0,1521.7 1189.3,1521.7 1190.3,1525.0 1177.1,1534.6 1182.2,1550.1 1179.4,1552.1 1166.2,1542.5 1153.0,1552.1 1150.2,1550.1 1155.3,1534.6 1142.1,1525.0 1143.1,1521.7 1159.4,1521.7" fill="#8a552b"/><polygon points="1166.2,1515.2 1169.7,1526.1 1181.2,1526.1 1171.9,1532.9 1175.5,1543.8 1166.2,1537.0 1156.9,1543.8 1160.5,1532.9 1151.2,1526.1 1162.7,1526.1" fill="#b85c2a"/>
<polygon points="1496.4,1505.4 1499.8,1505.4 1504.9,1520.9 1521.2,1520.9 1522.2,1524.2 1509.0,1533.8 1514.1,1549.3 1511.3,1551.3 1498.1,1541.7 1484.9,1551.3 1482.1,1549.3 1487.2,1533.8 1474.0,1524.2 1475.0,1520.9 1491.3,1520.9" fill="#94935f"/><polygon points="1498.1,1513.0 1502.0,1524.9 1514.5,1524.9 1504.3,1532.2 1508.2,1544.1 1498.1,1536.8 1488.0,1544.1 1491.9,1532.2 1481.7,1524.9 1494.2,1524.9" fill="#ffff00"/>
<polygon points="1974.1,1505.4 1977.5,1505.4 1982.6,1520.9 1998.9,1520.9 1999.9,1524.2 1986.7,1533.8 1991.8,1549.3 1989.0,1551.3 1975.8,1541.7 1962.6,1551.3 1959.8,1549.3 1964.9,1533.8 1951.7,1524.2 1952.7,1520.9 1969.0,1520.9" fill="#1f7230"/><polygon points="1975.8,1514.4 1979.3,1525.3 1990.8,1525.3 1981.5,1532.1 1985.1,1543.0 1975.8,1536.2 1966.5,1543.0 1970.1,1532.1 1960.8,1525.3 1972.3,1525.3" fill="#2f9e43"/>
</g>
<g stroke="#000" stroke-width="3.8" stroke-linecap="round">
<line x1="343" y1="257" x2="413.8" y2="245"/>
<line x1="318" y1="325" x2="369.5" y2="353.8"/>
<line x1="1361.5" y1="274.5" x2="1366" y2="530"/>
<line x1="1489" y1="290" x2="1427.3" y2="562.5"/>
<line x1="1564.8" y1="353" x2="1458" y2="577"/>
<line x1="2126.5" y1="481.3" x2="2023.3" y2="498"/>
<line x1="2003.5" y1="551.6" x2="2043.3" y2="575.5"/>
<line x1="272" y1="612" x2="346.3" y2="644.5"/>
<line x1="267" y1="651.3" x2="308.8" y2="665"/>
<line x1="208.8" y1="738.8" x2="293.8" y2="717"/>
<line x1="2028.3" y1="607" x2="1961.5" y2="623.8"/>
<line x1="2013.3" y1="646.3" x2="1902.5" y2="682.5"/>
<line x1="2014.5" y1="675" x2="1908.3" y2="706.3"/>
<line x1="1969" y1="807.5" x2="1878.3" y2="730"/>
<line x1="1957.5" y1="879.5" x2="1850.5" y2="732.5"/>
</g>
<polygon points="1862.5,684.2 1865.9,684.2 1871.0,699.7 1887.3,699.7 1888.3,703.0 1875.1,712.6 1880.2,728.1 1877.4,730.1 1864.2,720.5 1851.0,730.1 1848.2,728.1 1853.3,712.6 1840.1,703.0 1841.1,699.7 1857.4,699.7" fill="#000000"/><polygon points="1864.2,693.2 1867.7,704.1 1879.2,704.1 1869.9,710.9 1873.5,721.8 1864.2,715.0 1854.9,721.8 1858.5,710.9 1849.2,704.1 1860.7,704.1" fill="#666666"/>
<line x1="1980.8" y1="759.5" x2="1864.5" y2="712.5" stroke="#000" stroke-width="3.8" stroke-linecap="round"/>
<g font-size="22.25px" class="h">
<text x="338.8" y="263.3" text-anchor="end">Western Fisheries RC</text>
<text x="311.6" y="333.3" text-anchor="end">Oregon Water SC</text>
<text x="392.5" y="422.1" text-anchor="middle">Corvallis</text>
<text x="395.6" y="446.3" text-anchor="middle">Research Group</text>
<text x="957.0" y="345.8" text-anchor="end">Wyoming-Montana WSC</text>
<text x="601.6" y="456.3" text-anchor="start">Northern Rocky</text>
<text x="618.0" y="480.8" text-anchor="start">Mountian SC</text>
<text x="1207.6" y="440.8" text-anchor="start">Minnesota</text>
<text x="1236.6" y="466.3" text-anchor="start">WSC</text>
<text x="1281.0" y="244.3" text-anchor="start">Upper Midwest</text>
<text x="1269.0" y="269.8" text-anchor="start">Environmental SC</text>
<text x="1521.9" y="278.3" text-anchor="middle">Wisconsin</text>
<text x="1526" y="302.8" text-anchor="middle">WSC</text>
<text x="1637.5" y="347.1" text-anchor="middle">National Wildlife</text>
<text x="1640.5" y="372.1" text-anchor="middle">Health Center</text>
<text x="1590" y="520.8" text-anchor="middle">Upper Midwest</text>
<text x="1593" y="545.3" text-anchor="middle">WSC</text>
<text x="1895.2" y="489.6" text-anchor="middle">New York</text>
<text x="1897.7" y="514.6" text-anchor="middle">WSC</text>
<text x="2103.0" y="463.8" text-anchor="start">New England WSC;</text>
<text x="2202.8" y="489.6" text-anchor="middle">Earth Systems</text>
<text x="2204.6" y="514.6" text-anchor="middle">Modeling Branch</text>
<text x="2048.0" y="583.3" text-anchor="start">Hydrogeophysics Branch</text>
<text x="2033.0" y="614.6" text-anchor="start">New Jersey WSC</text>
<text x="2018.0" y="653.8" text-anchor="start">MD/DE/DC WSC</text>
<text x="2019.6" y="684.6" text-anchor="start">Patuxent Wildlife RC</text>
<text x="339.6" y="601.6" text-anchor="end">Western Ecological RC</text>
<text x="433" y="608.8" text-anchor="middle">Nevada</text>
<text x="436.3" y="633.8" text-anchor="middle">WSC</text>
<text x="262.6" y="658.3" text-anchor="end">California WSC</text>
<text x="259.0" y="762.1" text-anchor="end">Hydro-Eco</text>
<text x="304.0" y="787.1" text-anchor="end">Interactions Branch</text>
<text x="632.5" y="607.1" text-anchor="middle">Utah WSC</text>
<text x="666.0" y="795.8" text-anchor="start">SW Biological SC</text>
<text x="811.6" y="593.8" text-anchor="start">Wyoming WSC Field Office</text>
<text x="884.0" y="687.1" text-anchor="end">Ft. Collins SC</text>
<text x="982.3" y="749.6" text-anchor="middle">Colorado WSC;</text>
<text x="985.3" y="774.6" text-anchor="middle">Geology, Geophysics, &amp;</text>
<text x="986.3" y="800.3" text-anchor="middle">Geochemistry SC</text>
<text x="927.0" y="895.8" text-anchor="end">New Mexico WSC</text>
<text x="1210.9" y="804.6" text-anchor="middle">Kansas</text>
<text x="1213.7" y="829.6" text-anchor="middle">WSC</text>
<text x="1172" y="964.6" text-anchor="middle">Oklahoma WSC</text>
<text x="1235.0" y="650.1" text-anchor="start">Iowa WSC</text>
<text x="1532.8" y="662.6" text-anchor="middle">Central Midwest</text>
<text x="1535.2" y="687.1" text-anchor="middle">WSC</text>
<text x="1349" y="802.6" text-anchor="middle">Columbia</text>
<text x="1420.6" y="828.3" text-anchor="end">Environmental</text>
<text x="1397.0" y="853.3" text-anchor="end">Research</text>
<text x="1353.5" y="878.3" text-anchor="middle">Center</text>
<text x="1647" y="795.3" text-anchor="middle">VA/WV</text>
<text x="1650.2" y="820.3" text-anchor="middle">WSC</text>
<text x="1765.8" y="640.3" text-anchor="middle">Fish Health</text>
<text x="1768.6" y="665.3" text-anchor="middle">Branch</text>
<text x="1901.0" y="600.1" text-anchor="end">Pennsylvania WSC</text>
<text x="1796.6" y="967.1" text-anchor="start">South Atlantic</text>
<text x="1841.0" y="992.8" text-anchor="start">WSC</text>
<text x="635.4" y="997.6" text-anchor="middle">Arizona WSC</text>
<text x="1127.2" y="1127.6" text-anchor="middle">Texas WSC</text>
<text x="1514.0" y="1004.6" text-anchor="start">Office of the Regional</text>
<text x="1527.6" y="1029.6" text-anchor="start">Executive, SE Area</text>
<text x="1705.0" y="1253.6" text-anchor="end">St. Petersburg</text>
<text x="1750.6" y="1278.6" text-anchor="end">Coastal and Marine SC</text>
<text x="1781.0" y="1157.1" text-anchor="start">Wetland and Aquatic RC</text>
<text x="419.0" y="1305.8" text-anchor="start">Alaska SC Biology</text>
<text x="419.0" y="1330.8" text-anchor="start">WTE Branch</text>
</g>
<text x="1986.4" y="768.8" text-anchor="start" font-size="24.95px" font-weight="bold">Headquarters, Reston VA</text>
<text x="1971" y="812.5" text-anchor="start" font-size="20.15px" font-weight="normal">Science and Decisions Center</text>
<text x="1971.6" y="839.5" text-anchor="start" font-size="19.85px" font-weight="normal">Eastern Energy Resource Center</text>
<text x="1965" y="887" text-anchor="start" font-size="20.65px" font-weight="normal">Project Laboratories Branch</text>
<text x="1966" y="912.5" text-anchor="start" font-size="20.12px" font-weight="normal">Water Cycle Branch</text>
<text x="824.4" y="1429.8" text-anchor="start" font-size="36.17px" font-weight="bold">Laboratories and Science Centers Supported by the Integrated Contaminant Biology</text>
<text x="826" y="1465.3" text-anchor="start" font-size="36.0px" font-weight="bold">and Toxic Substances Hydrology Programs</text>
<text x="829" y="1497.5" text-anchor="start" font-size="21.87px" font-weight="normal">WSC, Water Science Center; SC, Science Center; RC, Research Center</text>
<text x="882.4" y="1540.2" text-anchor="start" font-size="25.35px" font-weight="normal">Water Mission Area</text>
<text x="1194" y="1540.2" text-anchor="start" font-size="24.9px" font-weight="normal">Hazards Mission Area</text>
<text x="1526" y="1540.2" text-anchor="start" font-size="25.4px" font-weight="normal">Energy and Minerals Mission Area</text>
<text x="2003" y="1540.2" text-anchor="start" font-size="24.95px" font-weight="normal">Ecosystems Mission Area</text>
<g fill="none" stroke="#000">
<rect x="103.75" y="90.6" width="2205.4" height="1470.6" stroke-width="3.5"/>
<path d="M103 1097.3 H760.2 V1561" stroke-width="3.5" stroke-linejoin="miter"/>
<rect x="813" y="1394.1" width="1496" height="167.4" stroke-width="4.3"/>
</g>
<g stroke="#000" stroke-width="3.8" fill="none">
<path d="M1835.2 143.1 H2199.8"/>
<path d="M1837.1 127.2 V143.1"/>
<path d="M1882.2 132.2 V143.1"/>
<path d="M1927.3 132.2 V143.1"/>
<path d="M1972.4 132.2 V143.1"/>
<path d="M2017.5 127.2 V143.1"/>
<path d="M2062.6 132.2 V143.1"/>
<path d="M2107.7 132.2 V143.1"/>
<path d="M2152.8 132.2 V143.1"/>
<path d="M2197.9 127.2 V143.1"/>
<path d="M1837.1 143.1 V159.6"/>
<path d="M1874.9 143.1 V154.7"/>
<path d="M1912.7 143.1 V154.7"/>
<path d="M1950.5 143.1 V154.7"/>
<path d="M1988.3 143.1 V159.6"/>
<path d="M2026.1 143.1 V154.7"/>
<path d="M2063.9 143.1 V154.7"/>
<path d="M2101.7 143.1 V154.7"/>
<path d="M2139.5 143.1 V159.6"/>
</g>
<g font-size="22.2px">
<text x="1837.1" y="122" text-anchor="middle">0</text>
<text x="1927.3" y="122" text-anchor="middle">137.5</text>
<text x="2017.5" y="122" text-anchor="middle">275</text>
<text x="2179.5" y="122" text-anchor="start">550 Miles</text>
<text x="1837.1" y="182.3" text-anchor="middle">0</text>
<text x="1912.7" y="182.3" text-anchor="middle">185</text>
<text x="1988.3" y="182.3" text-anchor="middle">370</text>
<text x="2120.3" y="182.3" text-anchor="start" textLength="155.5">740 Kilometers</text>
</g>
<g stroke="#231f20" fill="none" stroke-linejoin="miter">
<path d="M1764 102 L1742.4 168.6" stroke-width="1.2"/>
<path d="M1764.3 103.5 L1786.8 169" stroke-width="3.2"/>
<path d="M1742.1 168.8 Q1754 165 1764.1 159.8 Q1776 164.3 1785.6 167 L1788.9 171.9 Q1776 167 1764.1 164 Q1754 169.4 1745.5 172.6 L1744.3 169.8 Z" fill="#231f20" stroke="none"/>
</g>
<text x="1766.5" y="195.8" text-anchor="middle" font-size="30.5px" font-weight="bold" fill="#231f20">N</text>
</svg></body></html>
